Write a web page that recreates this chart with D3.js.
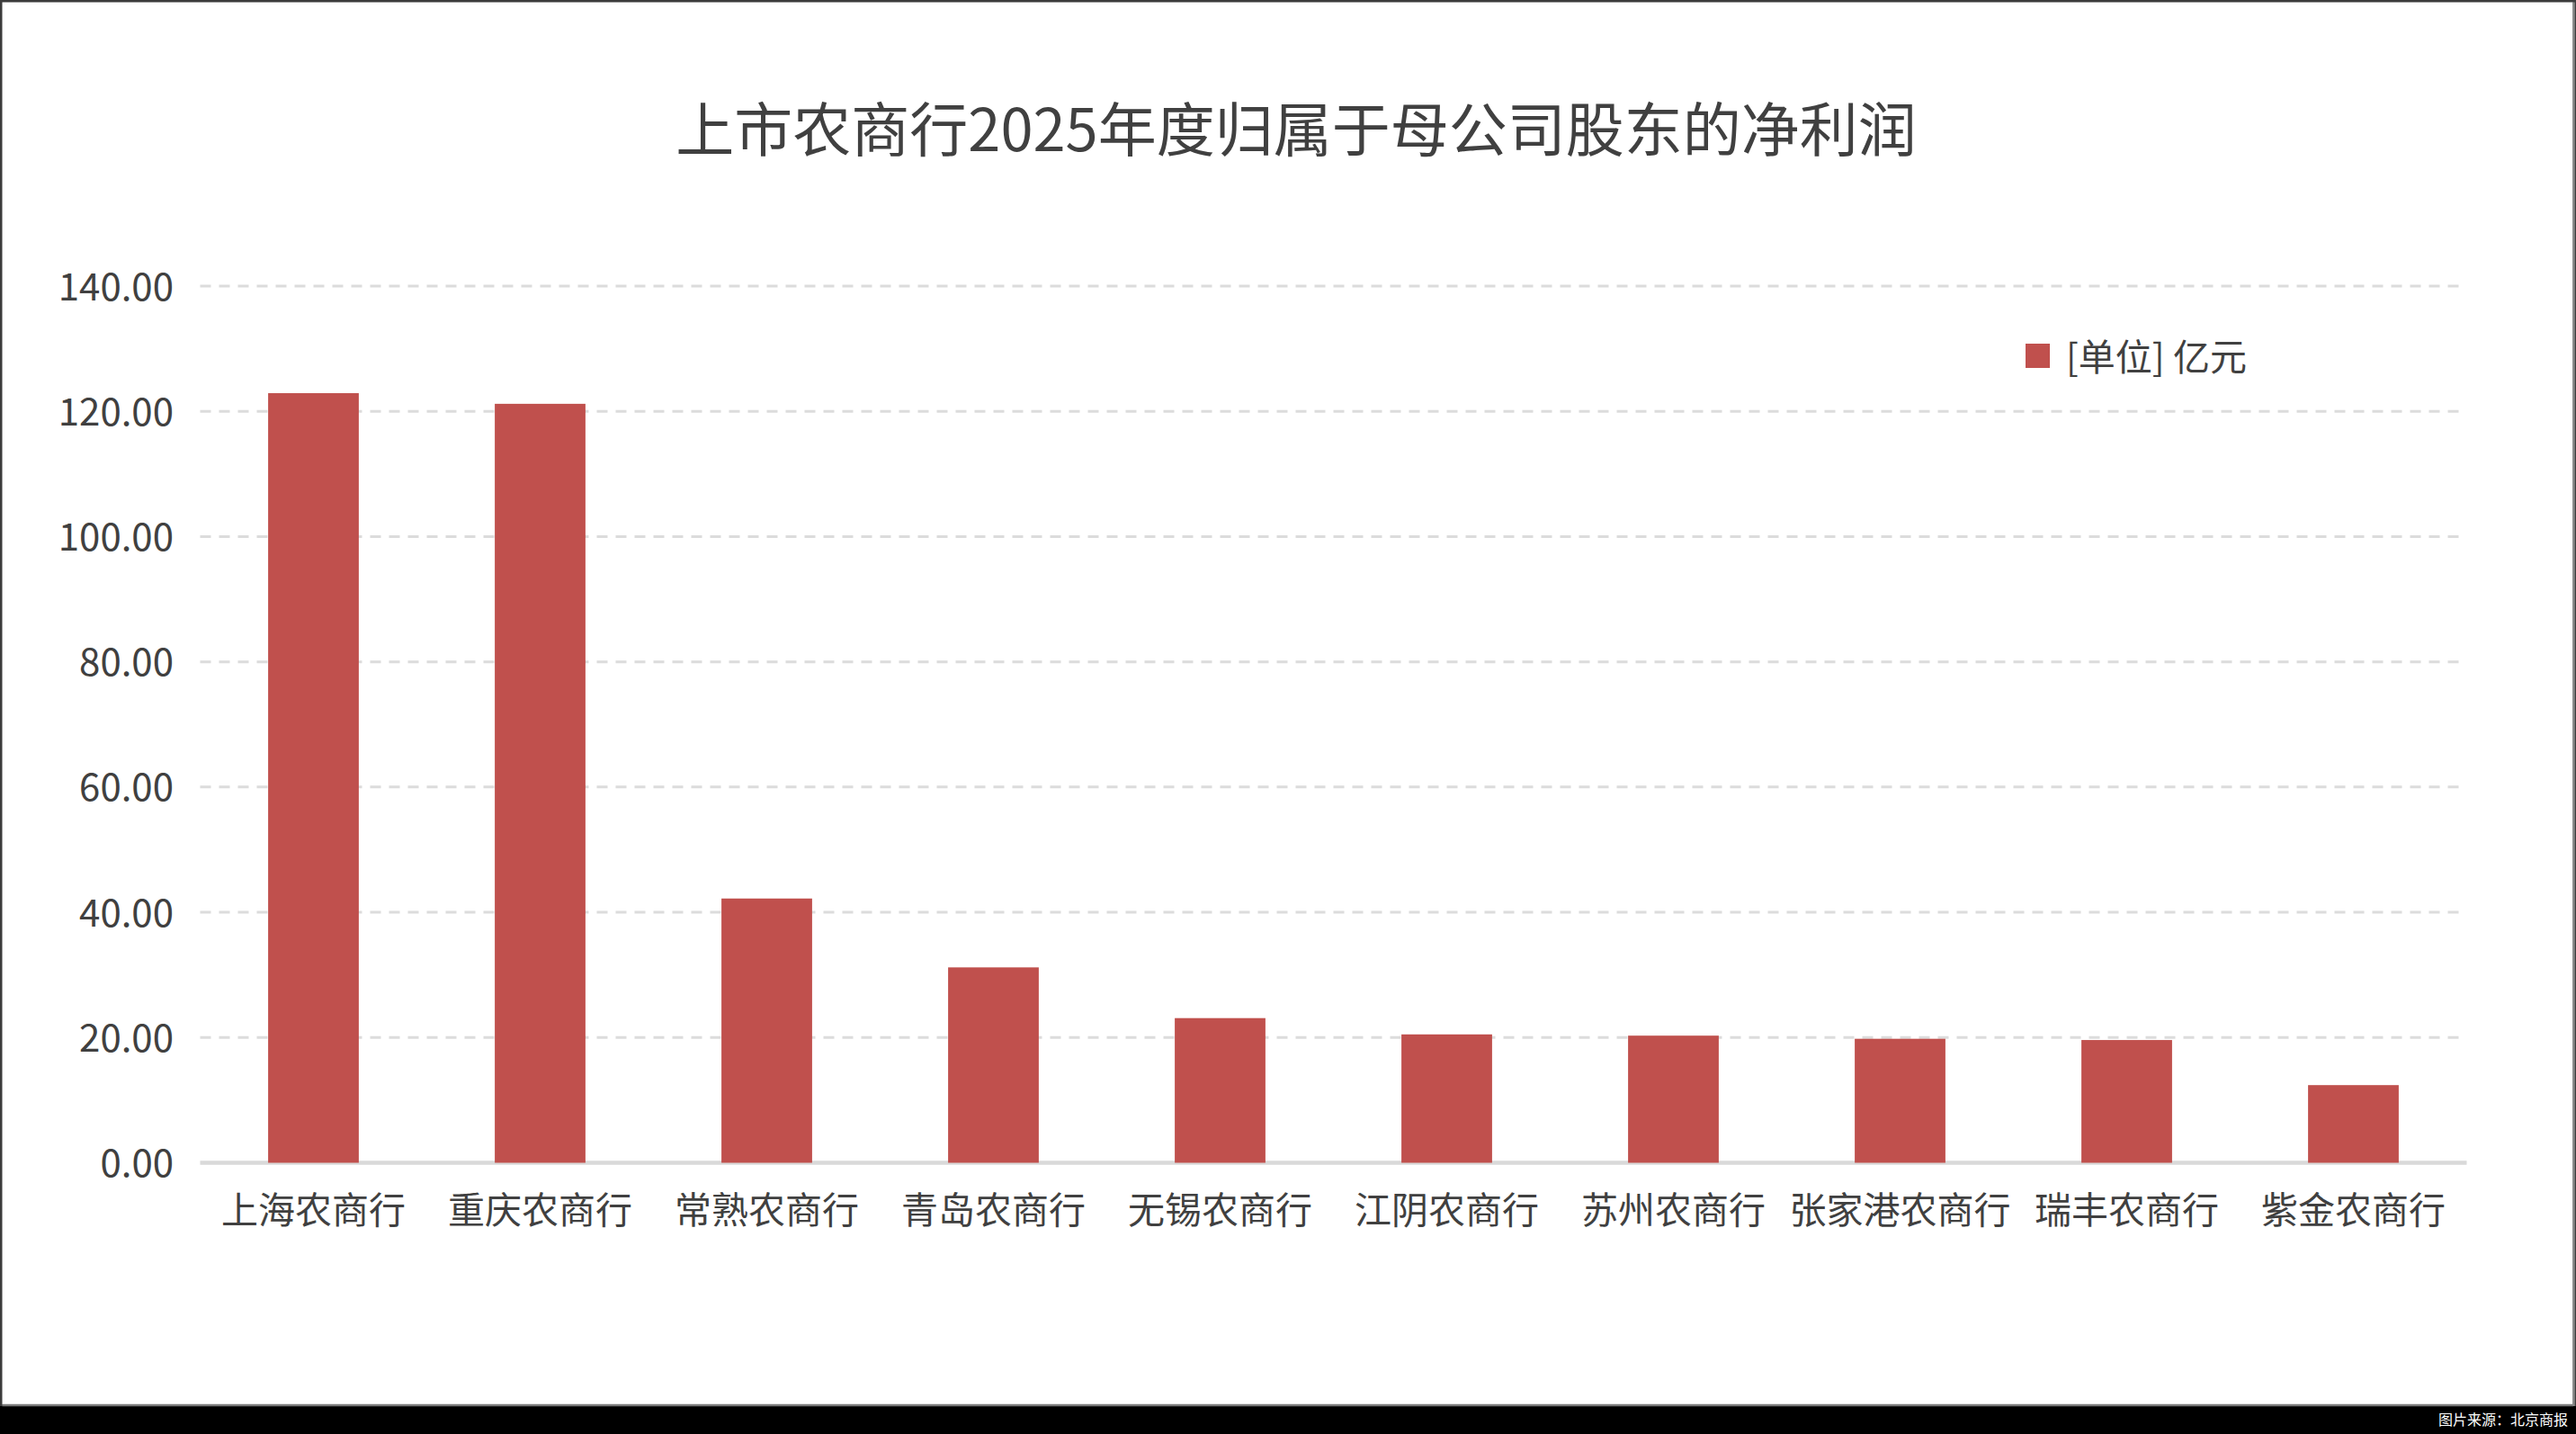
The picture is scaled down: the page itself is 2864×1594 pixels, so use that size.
<!DOCTYPE html>
<html>
<head>
<meta charset="utf-8">
<script src="https://cdn.jsdelivr.net/npm/d3@7"></script>
<style>
  html, body { margin: 0; padding: 0; background: #000; }
  svg { display: block; }
  text { font-family: "Noto Sans CJK SC", "Noto Sans", sans-serif; }
</style>
</head>
<body>
<svg id="chart" width="2864" height="1594"></svg>
<script>
const categories = ["上海农商行", "重庆农商行", "常熟农商行", "青岛农商行", "无锡农商行", "江阴农商行", "苏州农商行", "张家港农商行", "瑞丰农商行", "紫金农商行"];
const profits = [122.9, 121.2, 42.2, 31.2, 23.1, 20.5, 20.3, 19.8, 19.6, 12.4];
const yTicks = [0, 20, 40, 60, 80, 100, 120, 140];
const titleText = "上市农商行2025年度归属于母公司股东的净利润";
const legendLabel = "[单位] 亿元";
const sourceText = "图片来源：北京商报";

const W = 2864, H = 1594;
const svg = d3.select("#chart");

// background and frame
svg.append("rect").attr("x", 0).attr("y", 0).attr("width", W).attr("height", H).attr("fill", "#000");
svg.append("rect").attr("x", 0).attr("y", 0).attr("width", W).attr("height", 1563).attr("fill", "#3c3c3c");
svg.append("rect").attr("x", 2.5).attr("y", 2.5).attr("width", 2858).attr("height", 1558.5).attr("fill", "#ffffff");
svg.append("line").attr("x1", 2.5).attr("x2", 2861).attr("y1", 1562).attr("y2", 1562)
  .attr("stroke", "#7a7a7a").attr("stroke-width", 2.5);
svg.append("line").attr("x1", 2861.5).attr("x2", 2861.5).attr("y1", 2.5).attr("y2", 1563)
  .attr("stroke", "#8a8a8a").attr("stroke-width", 2.5);

const plotLeft = 222.5, plotRight = 2742.5;
const x = d3.scaleBand().domain(categories).range([plotLeft, plotRight]).padding(0);
const y = d3.scaleLinear().domain([0, 140]).range([1292.5, 318]);

// gridlines
svg.append("g").selectAll("line").data(yTicks.filter(d => d > 0)).join("line")
  .attr("x1", plotLeft).attr("x2", plotRight)
  .attr("y1", d => y(d)).attr("y2", d => y(d))
  .attr("stroke", "#dcdcdc").attr("stroke-width", 3)
  .attr("stroke-dasharray", "12,9");

// axis baseline
svg.append("line").attr("x1", plotLeft).attr("x2", plotRight)
  .attr("y1", y(0)).attr("y2", y(0))
  .attr("stroke", "#d9d9d9").attr("stroke-width", 4.5);

// y tick labels
svg.append("g").selectAll("text").data(yTicks).join("text")
  .attr("x", 193).attr("y", d => y(d) - 3)
  .attr("text-anchor", "end").attr("dominant-baseline", "central")
  .attr("font-size", 42).attr("fill", "#404040")
  .text(d => d3.format(".2f")(d));

// bars
const barW = x.bandwidth() * 0.4;
svg.append("g").selectAll("rect").data(profits).join("rect")
  .attr("x", (d, i) => x(categories[i]) + (x.bandwidth() - barW) / 2)
  .attr("width", barW)
  .attr("y", d => y(d))
  .attr("height", d => y(0) - y(d))
  .attr("fill", "#c0504d");

// x labels
svg.append("g").selectAll("text").data(categories).join("text")
  .attr("x", d => x(d) + x.bandwidth() / 2).attr("y", 1342)
  .attr("text-anchor", "middle").attr("dominant-baseline", "central")
  .attr("font-size", 41).attr("fill", "#404040")
  .text(d => d);

// title
svg.append("text").attr("x", 1441).attr("y", 140)
  .attr("text-anchor", "middle").attr("dominant-baseline", "central")
  .attr("font-size", 65).attr("fill", "#404040")
  .text(titleText);

// legend
svg.append("rect").attr("x", 2252).attr("y", 382).attr("width", 27).attr("height", 27).attr("fill", "#c0504d");
svg.append("text").attr("x", 2297).attr("y", 394)
  .attr("dominant-baseline", "central").attr("font-size", 41).attr("fill", "#404040")
  .text(legendLabel);

// source
svg.append("text").attr("x", 2855).attr("y", 1577)
  .attr("text-anchor", "end").attr("dominant-baseline", "central")
  .attr("font-size", 16).attr("fill", "#ffffff")
  .text(sourceText);
</script>
</body>
</html>
